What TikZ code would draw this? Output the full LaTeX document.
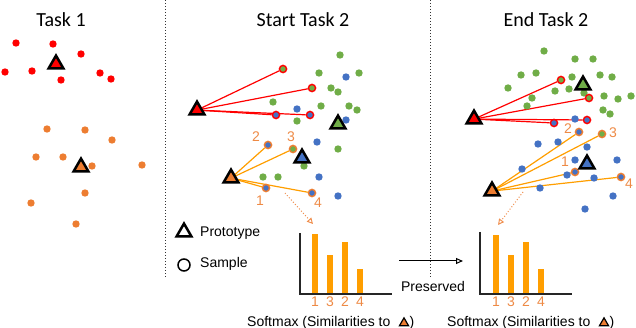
\documentclass[tikz,border=0pt]{standalone}
\usepackage{fontspec}
\setmainfont{Liberation Sans}
\newfontfamily\titlefont{Carlito}
\usetikzlibrary{shapes.geometric,arrows.meta,backgrounds}
\definecolor{cred}{HTML}{FF0000}
\definecolor{cgreen}{HTML}{70AD47}
\definecolor{cblue}{HTML}{4472C4}
\definecolor{corange}{HTML}{ED7D31}
\definecolor{cbar}{HTML}{FF9E00}
\definecolor{clabel}{HTML}{EE8A45}
\tikzset{
  dot/.style={circle,inner sep=0pt,minimum size=7.4pt,fill=#1},
  samp/.style args={#1/#2}{circle,inner sep=0pt,minimum size=7.2pt,fill=#1,draw=#2,line width=1.4pt},
  proto/.style={regular polygon,regular polygon sides=3,minimum size=17pt,inner sep=0pt,draw=black,line width=2.5pt,fill=#1,yshift=-2.1pt},
  smallproto/.style={regular polygon,regular polygon sides=3,minimum size=10.5pt,inner sep=0pt,draw=black,line width=1.2pt,fill=#1,yshift=-1.3pt},
  title/.style={font=\titlefont\fontsize{20}{24}\selectfont},
  lbl/.style={font=\fontsize{14}{16}\selectfont,text=clabel,inner sep=0pt},
  txt/.style={font=\fontsize{14}{16}\selectfont,inner sep=0pt},
  redline/.style={draw=cred,line width=1.2pt},
  orline/.style={draw=cbar,line width=1.2pt},
  divider/.style={draw=black!80,line width=1pt,dash pattern=on 1pt off 2pt},
  simarrow/.style={draw=corange!85,line width=1pt,dash pattern=on 1pt off 2pt,-{Triangle[open,length=6pt,width=6pt]}},
  bar/.style={fill=cbar},
  axis/.style={draw=black!85,line width=1.6pt},
}
\begin{document}
\begin{tikzpicture}[x=1pt,y=-1pt]
\useasboundingbox (0,0) rectangle (636,328);
% dividers
\coordinate (d1t) at (165,0); \coordinate (d1b) at (165,277);
\coordinate (d2t) at (430,0); \coordinate (d2b) at (430,277);
\draw[divider] (d1t) -- (d1b);
\draw[divider] (d2t) -- (d2b);
% titles
\node[title] (t1) at (61,20) {Task 1};
\node[title] (t2) at (303,20) {Start Task 2};
\node[title] (t3) at (546,20) {End Task 2};

% ---------------- Task 1
\foreach \p [count=\i] in {(16,43),(53,44),(81,54),(5,72),(32,71),(61,80),(100,73),(111,79)}
  \node[dot=cred] (r1\i) at \p {};
\foreach \p [count=\i] in {(47,129),(85,130),(112,140),(36,157),(63,157),(92,166),(142,165),(85,193),(31,203),(76,224)}
  \node[dot=corange] (o1\i) at \p {};
\node[proto=cred] (pR1) at (56,62) {};
\node[proto=corange] (pO1) at (81,165) {};

% ---------------- Start Task 2
\foreach \p [count=\i] in {(340,55),(319,73),(359,73),(331,88),(338,92),(273,102),(321,106),(349,106),(357,110),(297,121),(338,149),(304,166),(263,177),(278,177)}
  \node[dot=cgreen] (g2\i) at \p {};
\foreach \p [count=\i] in {(346,77),(297,109),(346,120),(317,142),(319,177),(338,196)}
  \node[dot=cblue] (b2\i) at \p {};
\node[samp=cgreen/cred] (sa1) at (283,69) {};
\node[samp=cgreen/cred] (sa2) at (312,88) {};
\node[samp=cblue/cred] (sa3) at (276,115) {};
\node[samp=cblue/cred] (sa4) at (310,115) {};
\node[samp=cblue/corange] (sb2) at (268,145) {};
\node[samp=cgreen/corange] (sb3) at (293,149) {};
\node[samp=cblue/corange] (sb1) at (266,188) {};
\node[samp=cblue/corange] (sb4) at (312,193) {};
\node[lbl] (lb2) at (256,137) {2};
\node[lbl] (lb3) at (291,137) {3};
\node[lbl] (lb1) at (260,201) {1};
\node[lbl] (lb4) at (318,203) {4};
\node[proto=cgreen] (pG2) at (338,122) {};
\node[proto=cblue] (pB2) at (302,156) {};
\node[proto=cred] (pR2) at (197,108) {};
\node[proto=corange] (pO2) at (231,176) {};

% ---------------- End Task 2
\foreach \p [count=\i] in {(544,51),(575,59),(593,59),(521,75),(536,73),(572,77),(600,75),(612,77),(508,88),(555,91),(569,89),(584,93),(532,98),(604,96),(618,99),(631,96),(527,106),(603,110),(610,114)}
  \node[dot=cgreen] (g3\i) at \p {};
\foreach \p [count=\i] in {(575,119),(538,144),(558,142),(587,147),(575,160),(617,160),(522,169),(567,175),(594,178),(540,188),(613,196),(585,209)}
  \node[dot=cblue] (b3\i) at \p {};
\node[samp=cgreen/cred] (sc1) at (561,80) {};
\node[samp=cgreen/cred] (sc2) at (589,98) {};
\node[samp=cblue/cred] (sc3) at (554,123) {};
\node[samp=cblue/cred] (sc4) at (587,120) {};
\node[samp=cblue/corange] (sd2) at (579,132) {};
\node[samp=cgreen/corange] (sd3) at (602,134) {};
\node[samp=cblue/corange] (sd1) at (575,172) {};
\node[samp=cblue/corange] (sd4) at (621,177) {};
\node[lbl] (ld2) at (568,129) {2};
\node[lbl] (ld3) at (613,133) {3};
\node[lbl] (ld1) at (565,162) {1};
\node[lbl] (ld4) at (629,184) {4};
\node[proto=cgreen] (pG3) at (583,83) {};
\node[proto=cblue] (pB3) at (587,162) {};
\node[proto=cred] (pR3) at (474,117) {};
\node[proto=corange] (pO3) at (492,189) {};

% connectors (behind nodes)
\begin{pgfonlayer}{background}
\foreach \s in {sa1,sa2,sa3,sa4} \draw[redline] (pR2.center) -- (\s);
\foreach \s in {sb1,sb2,sb3,sb4} \draw[orline] (pO2.center) -- (\s);
\foreach \s in {sc1,sc2,sc3,sc4} \draw[redline] (pR3.center) -- (\s);
\foreach \s in {sd1,sd2,sd3,sd4} \draw[orline] (pO3.center) -- (\s);
\end{pgfonlayer}

% legend
\node[proto=white] (legP) at (184,230) {};
\node[txt,anchor=west] (legPt) at (200,233) {Prototype};
\node[circle,draw=black,line width=1.5pt,fill=white,inner sep=0pt,minimum size=12pt] (legS) at (184,265) {};
\node[txt,anchor=west] (legSt) at (200,264) {Sample};

% similarity arrows
\coordinate (a1s) at (285,193); \coordinate (a1e) at (313,224);
\coordinate (a2s) at (523,192); \coordinate (a2e) at (498,225);
\draw[simarrow] (a1s) -- (a1e);
\draw[simarrow] (a2s) -- (a2e);

% bar chart 1
\coordinate (ax1t) at (300,233); \coordinate (ax1o) at (300,294); \coordinate (ax1r) at (392,294);
\foreach \x/\t in {315/234,330/255,345/242,360/269} \fill[bar] (\x-3,\t) rectangle (\x+3,294);
\draw[axis] (ax1t) -- (ax1o) -- (ax1r);
\foreach \x/\n in {315/1,330/3,345/2,360/4} \node[lbl] (bl1\n) at (\x,302) {\n};
\node[txt,anchor=west] (cap1) at (247,322.5) {Softmax (Similarities to};
\node[smallproto=corange] (cap1p) at (404,321.8) {};
\node[txt,anchor=west] (cap1e) at (409.5,322.5) {)};

% bar chart 2
\coordinate (ax2t) at (480,232); \coordinate (ax2o) at (480,294); \coordinate (ax2r) at (572,294);
\foreach \x/\t in {496/235,511/255,526/242,541/269} \fill[bar] (\x-3,\t) rectangle (\x+3,294);
\draw[axis] (ax2t) -- (ax2o) -- (ax2r);
\foreach \x/\n in {496/1,511/3,526/2,541/4} \node[lbl] (bl2\n) at (\x,302) {\n};
\node[txt,anchor=west] (cap2) at (447,322.5) {Softmax (Similarities to};
\node[smallproto=corange] (cap2p) at (604,321.8) {};
\node[txt,anchor=west] (cap2e) at (609.5,322.5) {)};

% preserved
\coordinate (ps) at (399,261); \coordinate (pe) at (463,261);
\draw[line width=1pt,-{Triangle[open,length=7pt,width=6pt]}] (ps) -- (pe);
\node[txt] (pres) at (433,286) {Preserved};
\end{tikzpicture}
\end{document}
